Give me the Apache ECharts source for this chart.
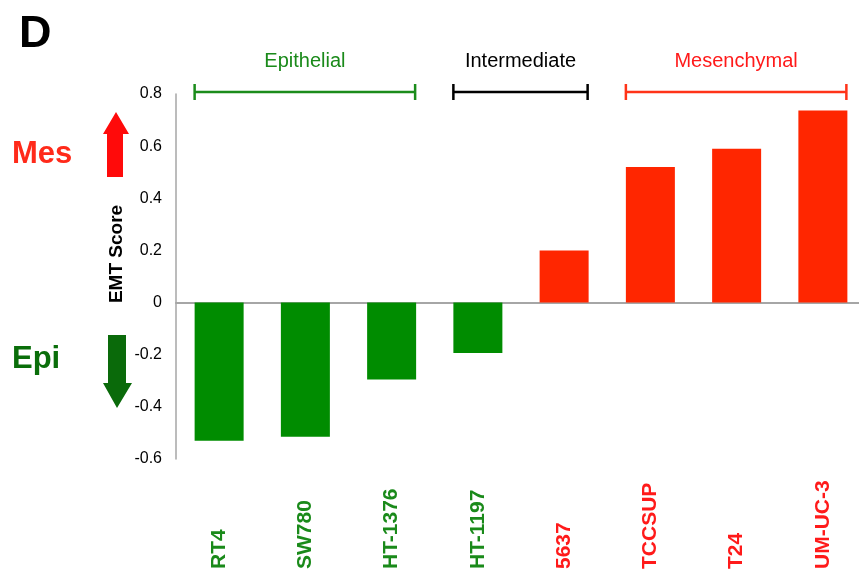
<!DOCTYPE html>
<html>
<head>
<meta charset="utf-8">
<style>
  html, body { margin: 0; padding: 0; background: #fff; }
  #chart { width: 859px; height: 575px; }
</style>
<script src="https://cdn.jsdelivr.net/npm/echarts@6/dist/echarts.min.js"></script>
</head>
<body>
<div id="chart"></div>
<script>
// Cell lines ordered by EMT score
const categories = ['RT4', 'SW780', 'HT-1376', 'HT-1197', '5637', 'TCCSUP', 'T24', 'UM-UC-3'];
const emtScores = [-0.53, -0.515, -0.295, -0.193, 0.2, 0.52, 0.59, 0.737];
// Phenotype of each cell line: 'epi' or 'mes' (bar and label colour)
const phenotype = ['epi', 'epi', 'epi', 'epi', 'mes', 'mes', 'mes', 'mes'];
// Bracketed groups above the bars: first and last category index
const groupNames = ['Epithelial', 'Intermediate', 'Mesenchymal'];
const groupStart = [0, 3, 5];
const groupEnd = [2, 4, 7];
// Y axis ticks
const yMin = -0.6, yMax = 0.8, yStep = 0.2;

const FONT = '"Liberation Sans", Arial, Helvetica, sans-serif';
const GREEN_BAR = '#008c00';
const RED_BAR = '#ff2600';
const GREEN_TEXT = '#1a8a1a';
const RED_TEXT = '#ff1a1a';
const groupColors = ['#1b8c1b', '#000000', '#ff3318'];
const groupTextColors = ['#1a8a1a', '#000000', '#ff1a1a'];
const BAR_WIDTH = 49;

const chart = echarts.init(document.getElementById('chart'), null, { renderer: 'canvas' });

const option = {
  animation: false,
  backgroundColor: '#ffffff',
  grid: { left: 176, top: 94, width: 690, height: 365, containLabel: false, outerBoundsMode: 'none' },
  xAxis: {
    type: 'category',
    data: categories,
    axisLine: { onZero: true, lineStyle: { color: '#a6a6a6', width: 2 } },
    axisTick: { show: false },
    axisLabel: {
      interval: 0,
      rotate: 90,
      align: 'left',
      verticalAlign: 'middle',
      margin: 110,
      fontFamily: FONT,
      fontWeight: 'bold',
      fontSize: 21,
      color: (value, index) => phenotype[index] === 'epi' ? GREEN_TEXT : RED_TEXT
    },
    splitLine: { show: false }
  },
  yAxis: {
    type: 'value',
    min: yMin,
    max: yMax,
    interval: yStep,
    axisLine: { show: true, lineStyle: { color: '#a6a6a6', width: 1.5 } },
    axisTick: { show: false },
    splitLine: { show: false },
    axisLabel: {
      margin: 14,
      fontFamily: FONT,
      fontSize: 16,
      color: '#000',
      formatter: v => Math.abs(v) < 1e-9 ? '0' : v.toFixed(1)
    }
  },
  series: [
    {
      type: 'bar',
      barWidth: BAR_WIDTH,
      data: emtScores.map((v, i) => ({
        value: v,
        itemStyle: { color: phenotype[i] === 'epi' ? GREEN_BAR : RED_BAR }
      }))
    },
    {
      // Group brackets spanning the outer bar edges, with their titles
      type: 'custom',
      clip: false,
      silent: true,
      data: groupNames.map((n, i) => [groupStart[i], groupEnd[i], i]),
      renderItem: (params, api) => {
        const gi = api.value(2);
        const top = api.coord([0, yMax])[1];
        const x0 = api.coord([api.value(0), 0])[0] - BAR_WIDTH / 2;
        const x1 = api.coord([api.value(1), 0])[0] + BAR_WIDTH / 2 - 1;
        const y = top - 2;
        const color = groupColors[gi];
        const line = { stroke: color, lineWidth: 2.5 };
        return {
          type: 'group',
          children: [
            { type: 'line', shape: { x1: x0, y1: y, x2: x1, y2: y }, style: line },
            { type: 'line', shape: { x1: x0, y1: y - 8, x2: x0, y2: y + 8 }, style: line },
            { type: 'line', shape: { x1: x1, y1: y - 8, x2: x1, y2: y + 8 }, style: line },
            {
              type: 'text',
              style: {
                x: (x0 + x1) / 2, y: y - 31,
                text: groupNames[gi],
                fill: groupTextColors[gi],
                font: '20px ' + FONT,
                align: 'center', verticalAlign: 'middle'
              }
            }
          ]
        };
      }
    }
  ],
  graphic: [
    { type: 'text', left: 19, top: 12,
      style: { text: 'D', font: 'bold 45px ' + FONT, fill: '#000' } },
    { type: 'text', x: 12, y: 154,
      style: { text: 'Mes', font: 'bold 31px ' + FONT, fill: '#ff2a1a', verticalAlign: 'middle' } },
    { type: 'text', x: 12, y: 359,
      style: { text: 'Epi', font: 'bold 31px ' + FONT, fill: '#0a6e0a', verticalAlign: 'middle' } },
    // Up arrow (mesenchymal direction)
    { type: 'polygon',
      shape: { points: [[116, 112], [129, 134], [123, 134], [123, 177], [107, 177], [107, 134], [103, 134]] },
      style: { fill: '#ff0a0a' } },
    // Down arrow (epithelial direction)
    { type: 'polygon',
      shape: { points: [[108, 335], [126, 335], [126, 383], [132, 383], [117, 408], [103, 383], [108, 383]] },
      style: { fill: '#0a6a0a' } },
    { type: 'text', x: 117, y: 254, rotation: Math.PI / 2,
      style: { text: 'EMT Score', font: 'bold 19px ' + FONT, fill: '#000', align: 'center', verticalAlign: 'middle' } }
  ]
};

chart.setOption(option);
</script>
</body>
</html>
